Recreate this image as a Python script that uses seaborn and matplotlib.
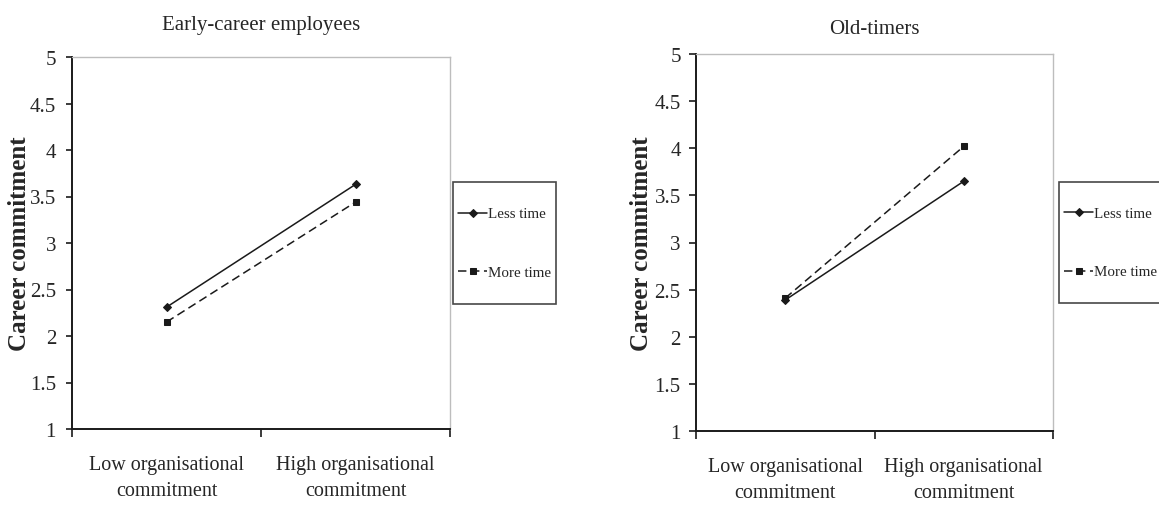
import numpy as np
import pandas as pd
import matplotlib
matplotlib.use("Agg")
import matplotlib.pyplot as plt
from matplotlib.lines import Line2D
from matplotlib.legend_handler import HandlerLine2D
import seaborn as sns

# Simple-slopes data: career commitment by organisational commitment level
categories = ["Low organisational\ncommitment", "High organisational\ncommitment"]
series_names = ["Less time", "More time"]
early_less = [2.31, 3.63]
early_more = [2.15, 3.44]
old_less = [2.39, 3.65]
old_more = [2.41, 4.02]
y_ticks = [1, 1.5, 2, 2.5, 3, 3.5, 4, 4.5, 5]
y_tick_labels = ["1", "1.5", "2", "2.5", "3", "3.5", "4", "4.5", "5"]

sns.set_style("ticks")
plt.rcParams["font.family"] = ["Liberation Serif", "DejaVu Serif"]

INK = "#1a1a1a"
FRAME = "#bdbdbd"
FIG_W, FIG_H = 1159, 506


class CentredLine(HandlerLine2D):
    """Legend line drawn level with the middle of its label text."""

    def create_artists(self, legend, orig_handle, xdescent, ydescent,
                       width, height, fontsize, trans):
        artists = super().create_artists(legend, orig_handle, xdescent,
                                         ydescent, width, height,
                                         fontsize, trans)
        for art in artists:
            xs = np.asarray(art.get_xdata(), dtype=float)
            art.set_ydata(np.full_like(xs, 0.3 * fontsize))
        return artists


def long_frame(less, more):
    rows = []
    for name, vals in zip(series_names, [less, more]):
        for i, v in enumerate(vals):
            rows.append({"pos": i + 0.5, "value": v, "series": name})
    return pd.DataFrame(rows)


def draw_panel(ax, less, more, title, title_pad, legend_x, label_x,
               ytick_pad, ytick_len):
    df = long_frame(less, more)
    sns.lineplot(
        data=df, x="pos", y="value", style="series",
        markers={"Less time": "D", "More time": "s"},
        dashes={"Less time": "", "More time": (5.5, 3.0)},
        color=INK, linewidth=1.1, markersize=4.5,
        markeredgecolor=INK, markerfacecolor=INK,
        ax=ax,
    )
    ax.set_xlim(0, 2)
    ax.set_ylim(1, 5)
    ax.set_yticks(y_ticks)
    ax.set_yticklabels(y_tick_labels, fontsize=15)
    ax.tick_params(axis="y", direction="out", length=ytick_len, width=1.2,
                   color=INK, pad=ytick_pad)

    # Category boundaries carry the tick marks, labels sit between them
    ax.set_xticks([0, 1, 2])
    ax.set_xticklabels(["", "", ""])
    ax.tick_params(axis="x", which="major", direction="out", length=6,
                   width=1.2, color=INK)
    ax.set_xticks([0.5, 1.5], minor=True)
    ax.set_xticklabels(categories, minor=True, fontsize=14.5,
                       linespacing=1.5)
    ax.tick_params(axis="x", which="minor", length=0, pad=18.5)

    ax.set_xlabel("")
    ax.set_ylabel("Career commitment", fontsize=18, fontweight="bold")
    ax.yaxis.set_label_coords(label_x, 0.5)
    ax.set_title(title, fontsize=15, pad=title_pad)

    for side in ["left", "bottom"]:
        ax.spines[side].set_color(INK)
        ax.spines[side].set_linewidth(1.4)
    for side in ["top", "right"]:
        ax.spines[side].set_visible(True)
        ax.spines[side].set_color(FRAME)
        ax.spines[side].set_linewidth(1.0)

    handles, labels = ax.get_legend_handles_labels()
    leg = ax.legend(
        handles, labels, loc="center left",
        bbox_to_anchor=(legend_x, 0.5), borderaxespad=0,
        fontsize=10.8, frameon=True, fancybox=False,
        borderpad=0.36, handleheight=5.0, labelspacing=0.4,
        handlelength=1.9, handletextpad=0.05,
        handler_map={Line2D: CentredLine()},
    )
    leg.get_frame().set_edgecolor(INK)
    leg.get_frame().set_linewidth(1.2)
    leg.set_clip_on(False)


fig = plt.figure(figsize=(FIG_W / 100, FIG_H / 100), dpi=100)
# panel boxes in pixels: left, top, right, bottom
L1, T1, R1, B1 = 72, 58, 450, 430
L2, T2, R2, B2 = 696, 55, 1053, 432
ax1 = fig.add_axes([L1 / FIG_W, 1 - B1 / FIG_H, (R1 - L1) / FIG_W,
                    (B1 - T1) / FIG_H])
ax2 = fig.add_axes([L2 / FIG_W, 1 - B2 / FIG_H, (R2 - L2) / FIG_W,
                    (B2 - T2) / FIG_H])

draw_panel(ax1, early_less, early_more, "Early-career employees", 20,
           (453 - L1) / (R1 - L1), (31 - L1) / (R1 - L1), 7.5, 4)
draw_panel(ax2, old_less, old_more, "Old-timers", 15,
           (1059 - L2) / (R2 - L2), (653 - L2) / (R2 - L2), 6, 5)

fig.savefig("out.png", dpi=100)
